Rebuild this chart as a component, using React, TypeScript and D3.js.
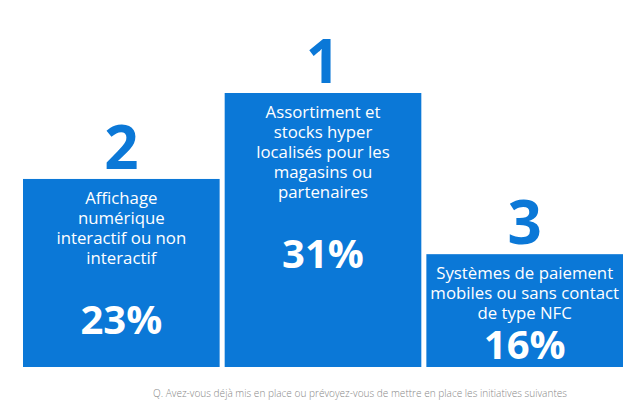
import React from "react";
import * as d3 from "d3";

const ranks = ["2", "1", "3"];
const labels = [
  ["Affichage", "numérique", "interactif ou non", "interactif"],
  ["Assortiment et", "stocks hyper", "localisés pour les", "magasins ou", "partenaires"],
  ["Systèmes de paiement", "mobiles ou sans contact", "de type NFC"],
];
const values = [23, 31, 16];
const footer =
  "Q. Avez-vous déjà mis en place ou prévoyez-vous de mettre en place les initiatives suivantes";

const W = 640;
const H = 406;
const BLUE = "#0b78d7";
const FONT = "'Open Sans', 'Noto Sans', sans-serif";

export default function App() {
  const x = d3
    .scaleBand<number>()
    .domain(values.map((_, i) => i))
    .range([23, 623])
    .paddingInner(0.025)
    .paddingOuter(0);
  const y = d3.scaleLinear().domain([5.5, 31]).range([367, 93]);
  const lineH = 20;

  return (
    <svg
      width={W}
      height={H}
      style={{ position: "absolute", left: 0, top: 0, background: "#fff" }}
    >
      {values.map((v, i) => {
        const x0 = x(i)!;
        const bw = x.bandwidth();
        const cx = x0 + bw / 2;
        const top = y(v);
        const bottom = y(5.5);
        const firstBase = top + 25;
        const lastBase = firstBase + (labels[i].length - 1) * lineH;
        const pctBase = Math.min(lastBase + 70, bottom - 8);
        return (
          <g key={i}>
            <rect x={x0} y={top} width={bw} height={bottom - top} fill={BLUE} />
            <text
              x={cx}
              y={top - 10}
              textAnchor="middle"
              fill={BLUE}
              fontFamily={FONT}
              fontWeight={700}
              fontSize={60}
            >
              {ranks[i]}
            </text>
            {labels[i].map((l, j) => (
              <text
                key={j}
                x={cx}
                y={firstBase + j * lineH}
                textAnchor="middle"
                fill="#fff"
                fontFamily={FONT}
                fontSize={16.8}
              >
                {l}
              </text>
            ))}
            <text
              x={cx}
              y={pctBase}
              textAnchor="middle"
              fill="#fff"
              fontFamily={FONT}
              fontWeight={700}
              fontSize={40}
            >
              {v}%
            </text>
          </g>
        );
      })}
      <text
        x={360}
        y={397}
        textAnchor="middle"
        fill="#888"
        fontFamily={FONT}
        fontWeight={300}
        fontSize={10.5}
        textLength={414}
        lengthAdjust="spacingAndGlyphs"
      >
        {footer}
      </text>
    </svg>
  );
}
